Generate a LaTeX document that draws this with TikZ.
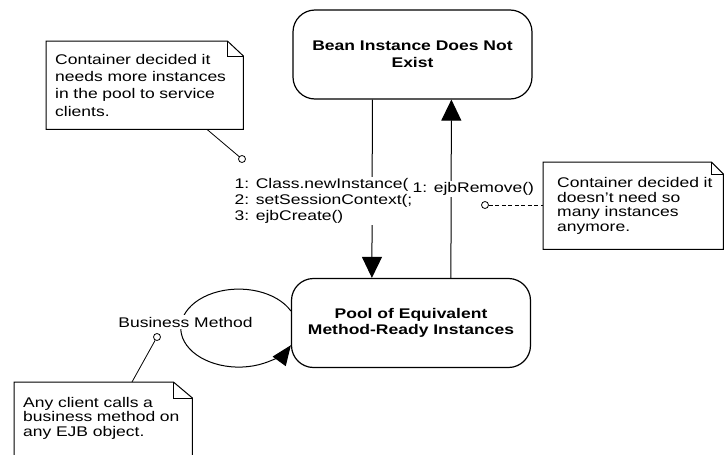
\documentclass[tikz,border=0pt]{standalone}
\usepackage{fontspec}
\setmainfont{Liberation Sans}[FakeStretch=1.25]
\usetikzlibrary{arrows.meta}
\begin{document}
\begin{tikzpicture}[x=1pt,y=1pt,
  every node/.style={font=\fontsize{14}{17}\selectfont},
  state/.style={draw, line width=1.2pt, rounded corners=22pt, minimum width=239pt, minimum height=89pt, align=center, font=\fontsize{14}{16.5}\selectfont\bfseries},
  arr/.style={line width=1pt, -{Triangle[length=21pt,width=20pt]}},
  lbl/.style={fill=white, inner sep=1.5pt, align=left},
  note/.style={anchor=north west, align=left, inner ysep=0pt},
  noteline/.style={line width=1pt},
  link/.style={line width=0.8pt},
  port/.style={circle, draw, line width=0.8pt, fill=white, inner sep=0pt, minimum size=7pt}]
\fill[white] (0,0) rectangle (724,-455);
\clip (0,0) rectangle (724,-455);

% states
\node[state] (top) at (412.5,-54.5) {Bean Instance Does Not\\Exist};
\node[state] (pool) at (411,-323) {Pool of Equivalent\\Method-Ready Instances};

% transitions
\draw[arr] ([xshift=80pt]top.south west) -- ([xshift=81pt]pool.north west);
\draw[arr] ([xshift=160pt]pool.north west) -- ([xshift=159pt]top.south west);
\draw[line width=1pt, -{Triangle[length=20pt,width=16pt]}] ([yshift=12pt]pool.west) arc[start angle=26, end angle=334, x radius=58, y radius=39];

% labels
\node[lbl, anchor=west, font=\fontsize{14}{16}\selectfont] (calls) at (233,-201) {1: Class.newInstance(\\2: setSessionContext(;\\3: ejbCreate()};
\node[lbl, anchor=west] (remove) at (411,-189) {1: ejbRemove()};
\node[lbl] (bm) at (185.5,-322) {Business Method};

% notes
\node[note, inner xsep=9pt, text width=179pt, minimum height=88pt, font=\fontsize{14}{17.3}\selectfont] (n1) at (46,-41) {\mbox{Container decided it}\\\mbox{needs more instances}\\\mbox{in the pool to service}\\clients.};
\draw[noteline] (n1.north west) -- ([xshift=-16pt]n1.north east) -- ([yshift=-15pt]n1.north east) -- (n1.south east) -- (n1.south west) -- cycle;
\draw[noteline] ([xshift=-16pt]n1.north east) |- ([yshift=-15pt]n1.north east);

\node[note, inner xsep=14pt, text width=152pt, minimum height=87pt, font=\fontsize{14}{14.5}\selectfont] (n2) at (543,-162) {\mbox{Container decided it}\\\mbox{doesn't need so}\\\mbox{many instances}\\anymore.};
\draw[noteline] (n2.north west) -- ([xshift=-12pt]n2.north east) -- ([yshift=-12pt]n2.north east) -- (n2.south east) -- (n2.south west) -- cycle;
\draw[noteline] ([xshift=-12pt]n2.north east) |- ([yshift=-12pt]n2.north east);

\node[note, inner xsep=9pt, text width=160pt, minimum height=72pt, font=\fontsize{14}{14.5}\selectfont] (n3) at (14,-382) {\mbox{Any client calls a}\\\mbox{business method on}\\\mbox{any EJB object.}};
\draw[noteline] ([yshift=-20pt]n3.south west) -- (n3.north west) -- ([xshift=-19pt]n3.north east) -- ([yshift=-16pt]n3.north east) -- ([yshift=-20pt]n3.south east);
\draw[noteline] ([xshift=-19pt]n3.north east) |- ([yshift=-16pt]n3.north east);

% note anchors
\node[port] (c1) at (242,-159) {};
\node[port] (c2) at (485,-205) {};
\node[port] (c3) at (157,-337) {};
\draw[link] ([xshift=161pt]n1.south west) -- (c1);
\draw[link, dash pattern=on 4pt off 2.5pt] (c2) -- (c2 -| n2.west);
\draw[link] (c3) -- ([xshift=118pt]n3.north west);
\end{tikzpicture}
\end{document}
